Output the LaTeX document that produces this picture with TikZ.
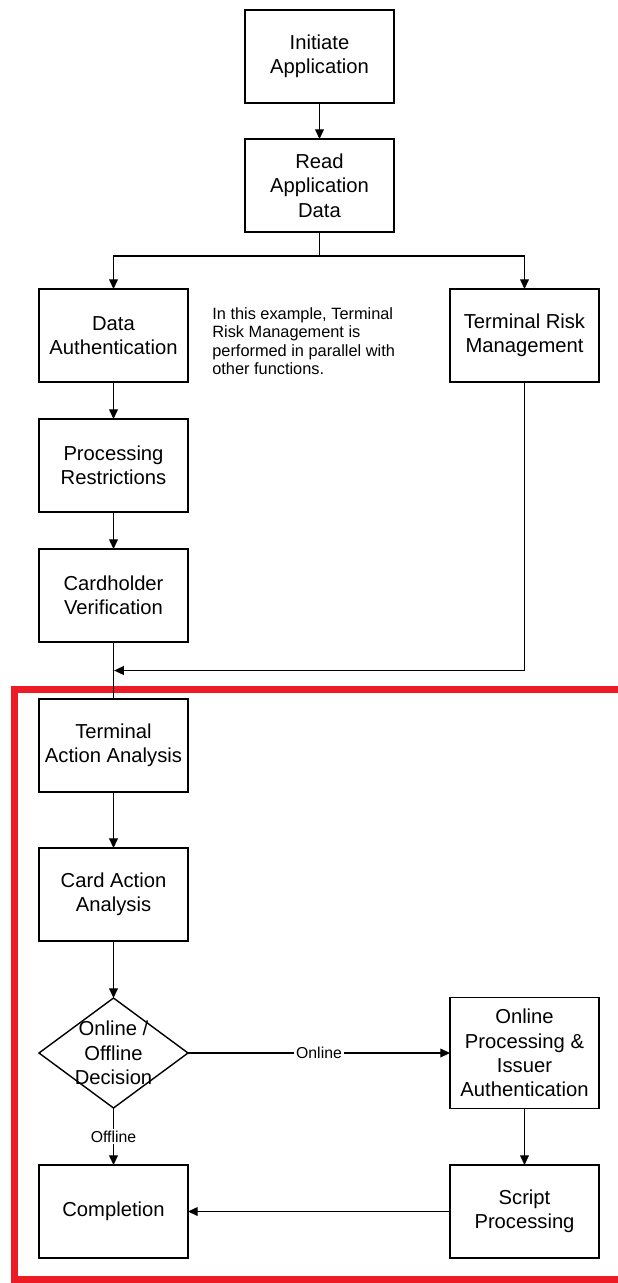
\documentclass[tikz,border=0pt]{standalone}
\usepackage{fontspec}
\setmainfont{Liberation Sans}
\usetikzlibrary{shapes.geometric, arrows.meta, positioning, calc}
\definecolor{framecol}{HTML}{ED1C24}

\begin{document}
\begin{tikzpicture}[
    node distance=0.74cm and 1cm,
    every node/.style={font=\fontsize{11.5}{13.9}\selectfont},
    stepbox/.style={rectangle, draw, line width=0.8pt, minimum width=2.98cm,
                minimum height=1.86cm, align=center, inner sep=2pt, outer sep=0pt},
    decision/.style={diamond, draw, line width=0.8pt, minimum width=2.98cm,
                minimum height=2.2cm, inner sep=0pt, outer sep=0pt},
    note/.style={align=left, inner sep=0pt, font=\fontsize{9.3}{10.5}\selectfont},
    arr/.style={-{Triangle[length=5.5pt, width=5pt]}, line width=0.7pt},
    link/.style={line width=0.7pt},
    lbl/.style={font=\fontsize{9}{10.5}\selectfont, fill=white, inner sep=1pt},
]
\useasboundingbox (0,0) rectangle (12.34,-25.66);

% Steps before the decision part
\node[stepbox] (init) at (6.39,-1.13) {Initiate\\Application};
\node[stepbox, below=0.72cm of init] (read) {Read\\Application\\Data};
\node[stepbox, below=1.14cm of read, xshift=-4.12cm] (dataauth) {Data\\Authentication};
\node[stepbox, below=1.14cm of read, xshift=4.1cm] (trm) {Terminal Risk\\Management};
\node[stepbox, below=of dataauth] (procrestr) {Processing\\Restrictions};
\node[stepbox, below=of procrestr] (cvm) {Cardholder\\Verification};

\node[note, anchor=north west] (parnote) at ($(dataauth.north east)+(0.48,-0.36)$)
    {In this example, Terminal\\Risk Management is\\performed in parallel with\\other functions.};

% Action analysis and decision
\node[stepbox, below=1.14cm of cvm] (taa) {Terminal\\Action Analysis};
\node[stepbox, below=1.12cm of taa] (caa) {Card Action\\Analysis};
\node[decision, below=1.14cm of caa] (decide) {};
\node[align=center, inner sep=0pt] (decidetxt) at (decide) {Online /\\Offline\\Decision};
\node[stepbox, minimum height=2.22cm] (online) at (decide -| trm)
    {Online\\Processing \&\\Issuer\\Authentication};
\node[stepbox, below=1.14cm of decide] (complete) {Completion};
\node[stepbox] (script) at (complete -| trm) {Script\\Processing};

% Red frame round the lower part
\draw[framecol, line width=0.14cm] (0.28,-13.78) rectangle (13.0,-25.59);

% Arrows
\draw[arr] (init) -- (read);
\draw[arr] (read.south) -- ++(0,-0.48) -| (dataauth.north);
\draw[arr] (read.south) -- ++(0,-0.48) -| (trm.north);
\draw[arr] (dataauth) -- (procrestr);
\draw[arr] (procrestr) -- (cvm);
\draw[link] (cvm) -- (taa);

% Risk management joins back in
\coordinate (join) at ($(cvm.south)!0.5!(taa.north)$);
\draw[arr, shorten >=0.35pt] (trm.south) |- (join);

\draw[arr] (taa) -- (caa);
\draw[arr] (caa) -- (decide);
\draw[arr] (decide.east) -- node[lbl]{Online} (online.west);
\draw[arr] (decide.south) -- node[lbl]{Offline} (complete.north);
\draw[arr] (online) -- (script);
\draw[arr] (script) -- (complete);

\end{tikzpicture}
\end{document}
